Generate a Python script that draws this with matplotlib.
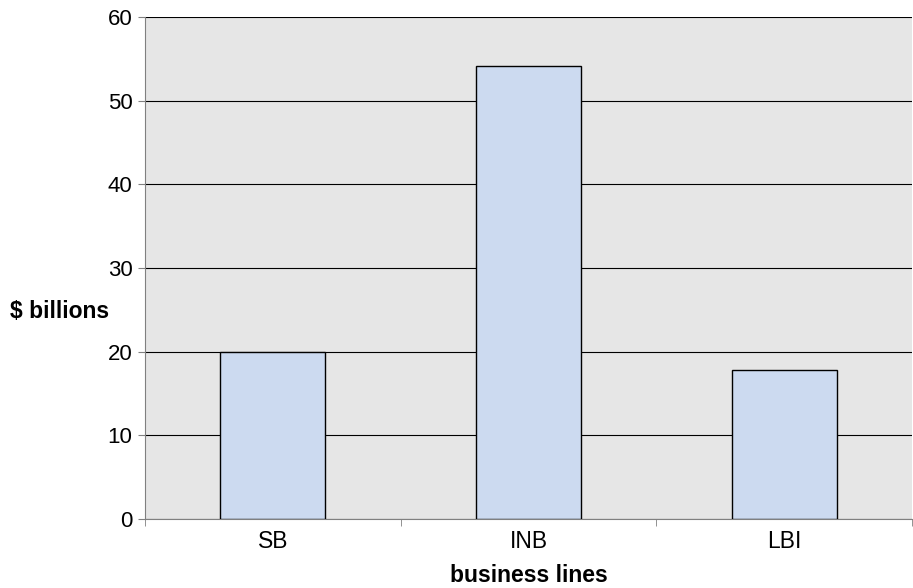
import matplotlib
matplotlib.use("Agg")
import matplotlib.pyplot as plt
import numpy as np

categories = ["SB", "INB", "LBI"]
values = [20.0, 54.2, 17.8]
yticks = [0, 10, 20, 30, 40, 50, 60]

plt.rcParams['font.family'] = ['Liberation Sans', 'DejaVu Sans']

fig = plt.figure(figsize=(9.13, 5.88), dpi=100)
ax = fig.add_axes([145/913, 1-519/588, (912-145)/913, (519-17)/588])
ax.set_facecolor('#E6E6E6')

x = np.arange(len(categories))
ax.bar(x, values, width=0.41, color='#CCDAF0', edgecolor='black', linewidth=1.0, zorder=3)

ax.set_xlim(-0.5, len(categories) - 0.5)
ax.set_ylim(0, 60)
ax.set_yticks(yticks)
ax.set_yticklabels([str(t) for t in yticks], fontsize=16)
ax.yaxis.grid(True, color='black', linewidth=0.8, zorder=1)
ax.set_axisbelow(True)

ax.set_xticks(x)
ax.set_xticklabels(categories, fontsize=16.5)
ax.set_xticks(np.arange(-0.5, len(categories), 1.0), minor=True)
ax.tick_params(axis='x', which='major', length=0, pad=8)
ax.tick_params(axis='x', which='minor', length=5, direction='out', color='#808080')
ax.tick_params(axis='y', length=5, direction='out', color='#808080', pad=4)

for s in ['top', 'right']:
    ax.spines[s].set_visible(False)
ax.spines['left'].set_color('#808080')
ax.spines['bottom'].set_color('#808080')

fig.text((145+912)/2/913, 1-575/588, 'business lines', fontsize=16.5, fontweight='bold', ha='center', va='center')
fig.text(60/913, 1-311/588, '$ billions', fontsize=16.5, fontweight='bold', ha='center', va='center')

fig.savefig('out.png', dpi=100)
